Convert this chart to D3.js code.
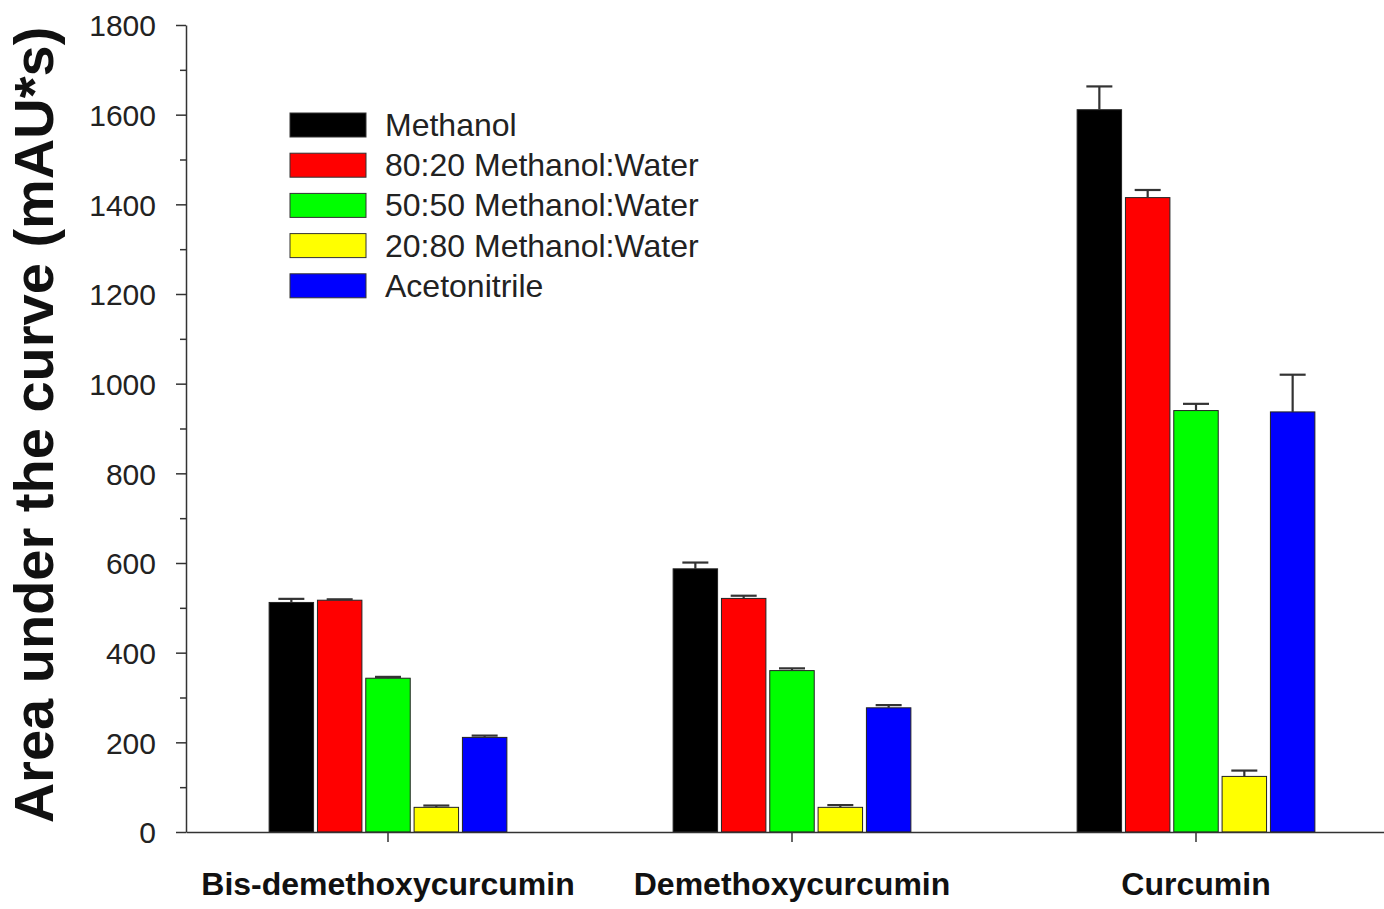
<!DOCTYPE html>
<html>
<head>
<meta charset="utf-8">
<script src="https://cdn.jsdelivr.net/npm/d3@7"></script>
<style>
  body { margin: 0; background: #fff; }
  svg { display: block; font-family: "Liberation Sans", Arial, sans-serif; }
</style>
</head>
<body>
<div id="chart"></div>
<script>
// categories on the x axis
const categories = ["Bis-demethoxycurcumin", "Demethoxycurcumin", "Curcumin"];

// solvent series
const series = ["Methanol", "80:20 Methanol:Water", "50:50 Methanol:Water", "20:80 Methanol:Water", "Acetonitrile"];
const colors = ["#000000", "#ff0000", "#00ff00", "#ffff00", "#0000ff"];

// mean values (one per category)
const methanol = [512, 587, 1611];
const methanolWater8020 = [517, 521, 1415];
const methanolWater5050 = [343, 360, 940];
const methanolWater2080 = [55, 55, 124];
const acetonitrile = [211, 277, 937];

// upper error bars (one per category)
const methanolErr = [8, 14, 52];
const methanolWater8020Err = [2, 6, 17];
const methanolWater5050Err = [3, 5, 15];
const methanolWater2080Err = [4, 5, 13];
const acetonitrileErr = [4, 6, 83];

const yTickValues = [0, 200, 400, 600, 800, 1000, 1200, 1400, 1600, 1800];
const yMinorValues = [100, 300, 500, 700, 900, 1100, 1300, 1500, 1700];

const seriesValues = [methanol, methanolWater8020, methanolWater5050, methanolWater2080, acetonitrile];
const seriesErrors = [methanolErr, methanolWater8020Err, methanolWater5050Err, methanolWater2080Err, acetonitrileErr];

// flatten into one row per bar
const bars = [];
categories.forEach((cat, ci) => {
    series.forEach((s, si) => {
        bars.push({ category: cat, series: s, value: seriesValues[si][ci], err: seriesErrors[si][ci], color: colors[si] });
    });
});

const width = 1384;
const height = 909;
const axisColor = "#333";

const svg = d3.select("#chart")
    .append("svg")
    .attr("width", width)
    .attr("height", height);

// scales
const x = d3.scaleBand()
    .domain(categories)
    .range([186, 186 + 3 * 404])
    .padding(0);

const xSub = d3.scaleBand()
    .domain(series)
    .range([0, x.bandwidth()])
    .paddingInner(0.08)
    .paddingOuter(1.72);

const y = d3.scaleLinear()
    .domain([0, 1800])
    .range([832, 25]);

// bars
svg.append("g")
    .selectAll("rect")
    .data(bars)
    .enter()
    .append("rect")
    .attr("x", d => x(d.category) + xSub(d.series))
    .attr("y", d => y(d.value))
    .attr("width", xSub.bandwidth())
    .attr("height", d => y(0) - y(d.value))
    .attr("fill", d => d.color)
    .attr("stroke", "#222")
    .attr("stroke-width", 1);

// error bars (upper only)
const errG = svg.append("g")
    .attr("stroke", axisColor)
    .attr("stroke-width", 2.2);

errG.selectAll(".err-line")
    .data(bars)
    .enter()
    .append("line")
    .attr("class", "err-line")
    .attr("x1", d => x(d.category) + xSub(d.series) + xSub.bandwidth() / 2)
    .attr("x2", d => x(d.category) + xSub(d.series) + xSub.bandwidth() / 2)
    .attr("y1", d => y(d.value))
    .attr("y2", d => y(d.value + d.err));

errG.selectAll(".err-cap")
    .data(bars)
    .enter()
    .append("line")
    .attr("class", "err-cap")
    .attr("x1", d => x(d.category) + xSub(d.series) + xSub.bandwidth() / 2 - 13)
    .attr("x2", d => x(d.category) + xSub(d.series) + xSub.bandwidth() / 2 + 13)
    .attr("y1", d => y(d.value + d.err))
    .attr("y2", d => y(d.value + d.err));

// y axis with major ticks
const yAxis = svg.append("g")
    .attr("transform", "translate(186,0)")
    .call(d3.axisLeft(y).tickValues(yTickValues).tickFormat(d3.format("d"))
        .tickSize(10).tickSizeOuter(0).tickPadding(20));

yAxis.selectAll("path, line").attr("stroke", axisColor).attr("stroke-width", 1.5);
yAxis.selectAll("text")
    .style("font-size", "30px")
    .style("fill", "#222")
    .attr("dy", "0.36em");

// minor ticks
svg.append("g")
    .attr("transform", "translate(186,0)")
    .call(d3.axisLeft(y).tickValues(yMinorValues).tickSize(6).tickSizeOuter(0).tickFormat(""))
    .call(g => g.select(".domain").remove())
    .selectAll("line").attr("stroke", axisColor).attr("stroke-width", 1.5);

// x axis
const xAxis = svg.append("g")
    .attr("transform", `translate(0,${y(0)})`)
    .call(d3.axisBottom(x).tickSize(10).tickSizeOuter(0).tickPadding(30));

xAxis.selectAll("path, line").attr("stroke", axisColor).attr("stroke-width", 1.5);
xAxis.selectAll("text")
    .style("font-size", "32px")
    .style("font-weight", "bold")
    .style("fill", "#111");

// y axis title
svg.append("text")
    .attr("transform", "rotate(-90)")
    .attr("x", -425)
    .attr("y", 53)
    .style("text-anchor", "middle")
    .style("font-size", "56px")
    .style("font-weight", "bold")
    .style("fill", "#111")
    .text("Area under the curve (mAU*s)");

// legend
const legend = svg.append("g")
    .attr("transform", "translate(290,113)");

const legendRows = legend.selectAll("g")
    .data(series)
    .enter()
    .append("g")
    .attr("transform", (d, i) => `translate(0,${i * 40.2})`);

legendRows.append("rect")
    .attr("width", 76)
    .attr("height", 24)
    .attr("fill", (d, i) => colors[i])
    .attr("stroke", "#333")
    .attr("stroke-width", 1);

legendRows.append("text")
    .attr("x", 95)
    .attr("y", 23)
    .style("font-size", "32px")
    .style("fill", "#222")
    .text(d => d);
</script>
</body>
</html>
